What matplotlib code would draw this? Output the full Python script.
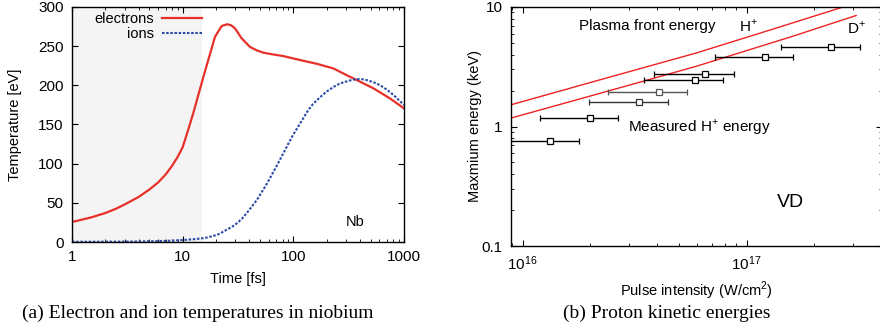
import numpy as np
import matplotlib
matplotlib.use("Agg")
import matplotlib.pyplot as plt
import matplotlib.ticker as ticker

plt.rcParams['font.family'] = ['Liberation Sans', 'DejaVu Sans']
plt.rcParams['font.size'] = 10
plt.rcParams['mathtext.fontset'] = 'custom'
plt.rcParams['mathtext.rm'] = 'Liberation Sans'

# (a) electron / ion temperatures in Nb
t_el = [1, 1.5, 2, 2.5, 3, 4, 5, 6, 7, 8, 9, 10, 11.2, 12.5, 14, 15.4, 17.5, 19.6,
        22.5, 25.3, 27.5, 29.7, 34.1, 40.6, 47, 53.5, 65, 81, 115, 163, 231, 303,
        376, 532, 752, 1000]
T_el = [25.5, 31.5, 37, 42.5, 48, 57.5, 67, 76, 86, 97, 108.5, 121, 143, 165, 190, 211,
        238, 262, 275.7, 278, 276.5, 272.8, 260, 249, 244.5, 241.7, 239.5, 237.4, 232.3,
        227.5, 221.5, 213, 206.6, 196, 183, 170.6]
t_ion = [1, 2, 3, 4, 5, 6, 8, 10, 12.5, 15.7, 18, 20.4, 22.5, 25, 28, 31, 34.5, 38,
         42, 47, 52, 58, 64, 71, 79, 87.5, 97, 108, 120, 133, 150, 175, 200, 231, 265,
         303, 340, 376, 420, 463, 530, 611, 700, 807, 900, 1000]
T_ion = [0.3, 0.4, 0.5, 0.7, 0.9, 1.1, 1.7, 2.5, 3.5, 5, 7, 9, 12, 15.7, 19.5, 24, 30, 37,
         45, 54, 64, 75, 86, 97.6, 110, 122, 134, 145, 155.5, 166, 176, 185, 192, 198,
         202.5, 205, 207, 208, 207.8, 206.6, 204, 200, 194.5, 187.5, 181, 175]
pulse_end = 15

# (b) proton kinetic energies
I_meas = [1.32e16, 2.0e16, 3.30e16, 4.05e16, 5.86e16, 6.52e16, 1.21e17, 2.39e17]
I_lo = [0.79e16, 1.19e16, 1.97e16, 2.40e16, 3.49e16, 3.86e16, 7.22e16, 1.43e17]
I_hi = [1.79e16, 2.67e16, 4.45e16, 5.43e16, 7.89e16, 8.80e16, 1.62e17, 3.22e17]
E_meas = [0.759, 1.18, 1.59, 1.93, 2.46, 2.76, 3.81, 4.62]
I_H = [8.87e15, 2.34e16, 5.93e16, 1.285e17, 2.69e17]
E_H = [1.52, 2.53, 4.11, 6.45, 9.98]
I_D = [8.87e15, 2.34e16, 5.93e16, 1.58e17, 3.09e17]
E_D = [1.176, 1.95, 3.18, 5.63, 8.49]

fig = plt.figure(figsize=(8.8, 3.36), dpi=100)

def style(ax):
    ax.tick_params(which='both', direction='in', top=True, right=True, labelsize=11)
    ax.tick_params(which='major', length=4, width=0.8, pad=6)
    ax.tick_params(which='minor', length=2, width=0.6)
    for s in ax.spines.values():
        s.set_linewidth(1.0)

ax1 = fig.add_axes([72/880, 94/336, 332/880, 235/336])
ax1.axvspan(1, pulse_end, color='#f4f4f4', lw=0, zorder=0)
ax1.plot(t_el, T_el, color='#e8302a', lw=1.6, label='electrons')
ax1.plot(t_ion, T_ion, color='#2b4aa8', lw=1.5, ls=(0, (1.2, 0.8)), label='ions')
ax1.set_xscale('log')
ax1.set_xlim(1, 1000)
ax1.set_ylim(0, 300)
ax1.set_yticks(range(0, 301, 50))
ax1.xaxis.set_major_formatter(ticker.FuncFormatter(lambda v, p: '%g' % v))
ax1.set_xlabel('Time [fs]', fontsize=10.5)
ax1.set_ylabel('Temperature [eV]', fontsize=10.5)
ax1.xaxis.set_label_coords(0.5, -0.128)
ax1.yaxis.set_label_coords(-0.151, 0.5)
ax1.text(0.853, 0.087, 'Nb', transform=ax1.transAxes, fontsize=10.5, ha='center', va='center')
ax1.legend(loc='upper right', bbox_to_anchor=(0.43, 1.035), frameon=False, markerfirst=False,
           handlelength=2.7, handletextpad=0.6, labelspacing=0.05, fontsize=10.5)
style(ax1)

ax2 = fig.add_axes([511/880, 90/336, 371/880, 239/336])
ax2.plot(I_H, E_H, color='#ee2222', lw=1.0)
ax2.plot(I_D, E_D, color='#ee2222', lw=1.0)
cols = ['black', 'black', '#333333', '#555555', 'black', 'black', 'black', 'black']
for i in range(len(I_meas)):
    ax2.errorbar([I_meas[i]], [E_meas[i]],
                 xerr=[[I_meas[i] - I_lo[i]], [I_hi[i] - I_meas[i]]],
                 fmt='s', mfc='white', mec=cols[i], ms=4, mew=0.9,
                 ecolor=cols[i], elinewidth=1.0, capsize=2, capthick=0.8)
ax2.set_xscale('log')
ax2.set_yscale('log')
ax2.set_xlim(8.87e15, 4.03e17)
ax2.set_ylim(0.1, 10)
ax2.yaxis.set_major_formatter(ticker.FuncFormatter(lambda v, p: '%g' % v))
ax2.yaxis.set_minor_formatter(ticker.NullFormatter())
ax2.set_xlabel('Pulse intensity (W/cm$^2$)', fontsize=10.5)
ax2.set_ylabel('Maxmium energy (keV)', fontsize=10.5)
ax2.xaxis.set_label_coords(0.5, -0.142)
ax2.yaxis.set_label_coords(-0.079, 0.5)
ax2.text(647/880, 1 - 26/336, 'Plasma front energy', transform=fig.transFigure, fontsize=11,
         ha='center', va='center')
ax2.text(0.64, 0.92, 'H$^{+}$', transform=ax2.transAxes, fontsize=11, ha='center', va='center')
ax2.text(0.93, 0.912, 'D$^{+}$', transform=ax2.transAxes, fontsize=11, ha='center', va='center')
ax2.text(0.509, 0.498, 'Measured H$^{+}$ energy', transform=ax2.transAxes, fontsize=11,
         ha='center', va='center')
ax2.text(0.753, 0.18, 'VD', transform=ax2.transAxes, fontsize=14, ha='center', va='center')
style(ax2)

fig.text(22/880, 1 - 318/336, '(a) Electron and ion temperatures in niobium',
         family='Liberation Serif', fontsize=14, ha='left', va='baseline')
fig.text(563/880, 1 - 318/336, '(b) Proton kinetic energies',
         family='Liberation Serif', fontsize=14, ha='left', va='baseline')

fig.savefig('out.png', dpi=100)
